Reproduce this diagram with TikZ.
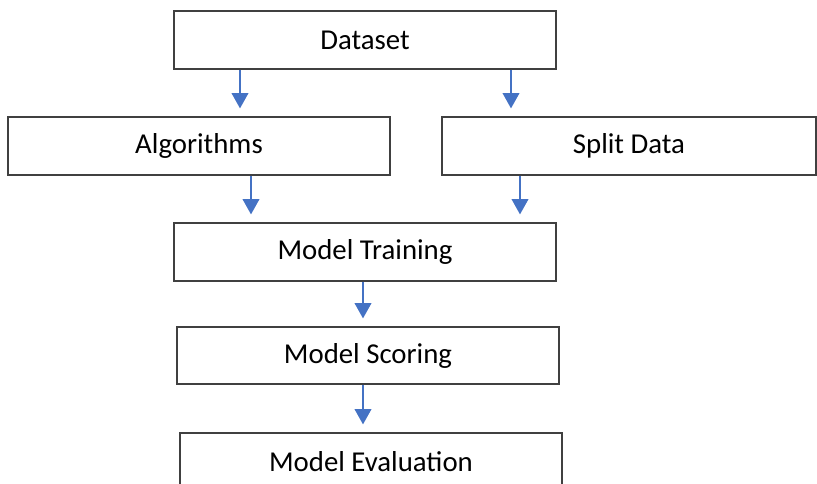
\documentclass[tikz,border=0pt]{standalone}
\usepackage{fontspec}
\setmainfont{Carlito}
\usetikzlibrary{arrows.meta}
\begin{document}
\begin{tikzpicture}[x=0.75pt,y=-0.75pt,
  box/.style={draw=black!75, line width=0.9pt, fill=white, minimum width=286.5pt, minimum height=43.5pt, inner sep=0pt, font=\fontsize{21.6}{25}\selectfont},
  arr/.style={draw={rgb,255:red,68;green,114;blue,196}, line width=1.3pt, -{Triangle[width=12.5pt,length=11.5pt]}, shorten >=6pt}]
\useasboundingbox (0,0) rectangle (817,484);
\clip (0,0) rectangle (817,484);
\node[box] (ds) at (365,40) {Dataset};
\node[box] (alg) at (199,146) {Algorithms};
\node[box, minimum width=280.5pt] (split) at (629,146) {Split Data};
\node[box] (train) at (365,252) {Model Training};
\node[box, minimum height=42.75pt] (score) at (368,355.5) {Model Scoring};
\node[box] (eval) at (371,462) {Model Evaluation};
\draw[arr] (ds.south -| 240,0) -- (alg.north -| 240,0);
\draw[arr] (ds.south -| 511,0) -- (split.north -| 511,0);
\draw[arr] (alg.south -| 251,0) -- (train.north -| 251,0);
\draw[arr] (split.south -| 520,0) -- (train.north -| 520,0);
\draw[arr] (train.south -| 363,0) -- (score.north -| 363,0);
\draw[arr] (score.south -| 363,0) -- (eval.north -| 363,0);
\end{tikzpicture}
\end{document}
